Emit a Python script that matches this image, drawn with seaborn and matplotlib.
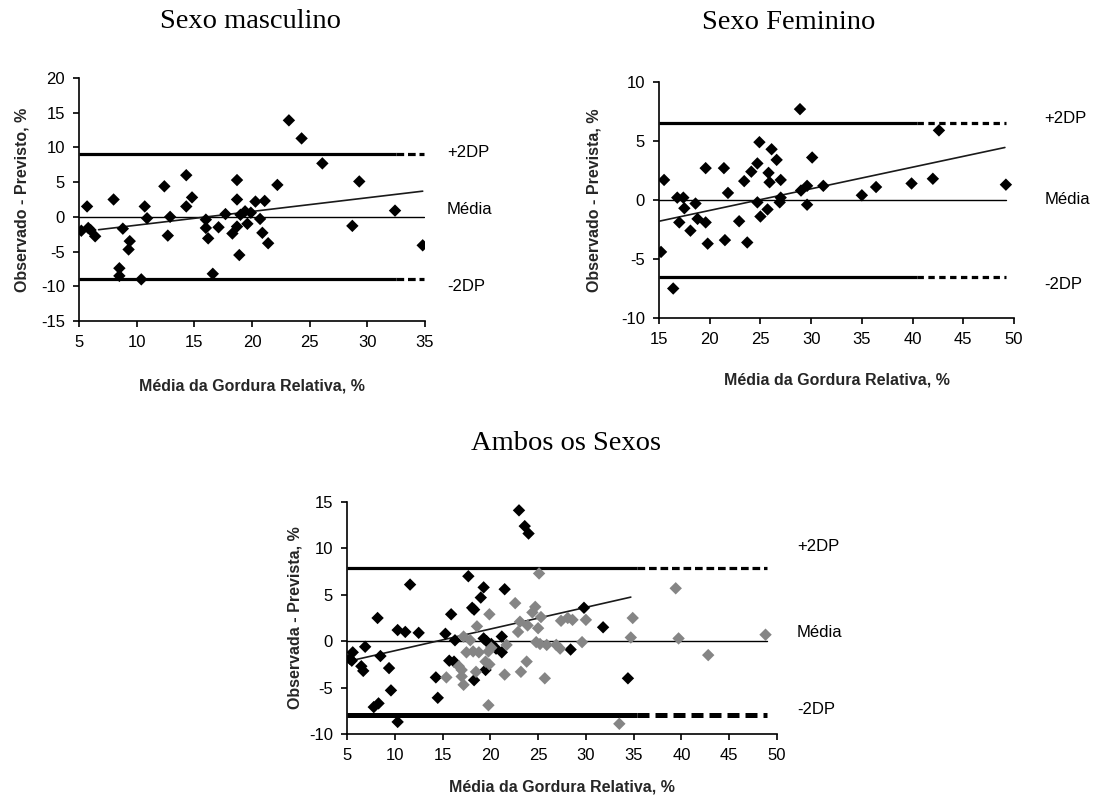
import matplotlib
matplotlib.use("Agg")
import matplotlib.pyplot as plt
import seaborn as sns
import pandas as pd

# ---------------- data ----------------
titles = ["Sexo masculino", "Sexo Feminino", "Ambos os Sexos"]
xlabel_text = "Média da Gordura Relativa, %"
ylabels = ["Observado - Previsto, %", "Observado - Prevista, %", "Observada - Prevista, %"]
band_labels = ["+2DP", "Média", "-2DP"]

male_x = [5.2, 5.7, 5.8, 6.0, 6.4, 8.0, 8.5, 8.5, 8.8, 9.4, 9.3, 10.4, 10.7, 10.9, 12.4,
          12.7, 12.9, 14.3, 14.3, 14.8, 16.0, 16.0, 16.2, 16.6, 17.1, 17.7, 18.3, 18.7,
          18.7, 18.7, 18.9, 19.0, 19.4, 19.6, 19.9, 20.3, 20.7, 20.9, 21.1, 21.4, 22.2,
          23.2, 24.3, 26.1, 28.7, 29.3, 32.4, 34.8]
male_y = [-2.0, 1.5, -1.6, -1.9, -2.8, 2.5, -7.4, -8.5, -1.7, -3.5, -4.7, -9.0, 1.5, -0.2, 4.4,
          -2.7, 0.0, 6.0, 1.5, 2.8, -0.4, -1.6, -3.1, -8.2, -1.5, 0.4, -2.4, 5.3,
          2.5, -1.4, -5.5, 0.3, 0.8, -1.0, 0.6, 2.2, -0.3, -2.3, 2.3, -3.8, 4.6,
          13.9, 11.3, 7.7, -1.3, 5.1, 0.9, -4.1]

fem_x = [15.2, 15.5, 16.4, 16.8, 17.0, 17.4, 17.5, 18.1, 18.6, 18.8, 19.6, 19.6, 19.8, 21.4,
         21.5, 21.8, 22.9, 23.4, 23.7, 24.1, 24.7, 24.7, 24.9, 25.0, 25.7, 25.8, 25.9, 26.1,
         26.6, 26.9, 27.0, 27.0, 28.9, 29.0, 29.6, 29.6, 30.1, 31.2, 35.0, 36.4, 39.9, 42.0,
         42.6, 49.2]
fem_y = [-4.4, 1.7, -7.5, 0.2, -1.9, 0.2, -0.7, -2.6, -0.3, -1.6, 2.7, -1.9, -3.7, 2.7,
         -3.4, 0.6, -1.8, 1.6, -3.6, 2.4, 3.1, -0.2, 4.9, -1.4, -0.8, 2.3, 1.5, 4.3,
         3.4, -0.2, 0.2, 1.7, 7.7, 0.8, 1.2, -0.4, 3.6, 1.2, 0.4, 1.1, 1.4, 1.8,
         5.9, 1.3]

both_m_x = [5.3, 5.5, 5.6, 6.5, 6.7, 6.9, 8.2, 8.5, 9.4, 9.6, 7.8, 8.3, 10.3, 10.3, 11.1,
            11.6, 12.5, 14.3, 14.5, 15.3, 15.9, 15.7, 16.2, 16.3, 17.7, 18.1, 18.3, 18.3,
            19.0, 19.3, 19.3, 19.6, 19.5, 20.1, 20.6, 21.2, 21.2, 21.5, 23.0, 23.6, 24.0,
            28.4, 29.8, 31.8, 34.4]
both_m_y = [-1.9, -2.1, -1.2, -2.7, -3.2, -0.6, 2.5, -1.6, -2.9, -5.3, -7.1, -6.7, -8.7, 1.2, 1.0,
            6.1, 0.9, -3.9, -6.1, 0.8, 2.9, -2.1, -2.2, 0.1, 7.0, 3.6, 3.4, -4.2,
            4.7, 5.8, 0.3, 0.0, -3.1, -0.3, -0.8, -1.2, 0.5, 5.6, 14.1, 12.4, 11.6,
            -0.9, 3.6, 1.5, -4.0]
both_f_x = [15.4, 16.7, 17.0, 17.0, 17.2, 17.2, 17.5, 17.9, 18.2, 18.6, 18.8, 18.5, 19.5, 19.9,
            19.9, 19.8, 20.1, 19.8, 21.7, 21.5, 22.6, 22.9, 23.1, 23.2, 23.8, 23.9, 24.4, 24.7,
            24.8, 25.1, 25.0, 25.3, 25.2, 25.7, 25.9, 26.9, 27.3, 27.4, 28.1, 28.6, 29.6, 30.0,
            33.5, 34.7, 34.9, 39.4, 39.7, 42.8, 48.8]
both_f_y = [-3.9, -2.7, -3.1, -3.8, -4.7, 0.5, -1.2, 0.1, -1.1, 1.6, -1.2, -3.3, -2.2, -2.5,
            2.9, -1.1, -0.7, -6.9, -0.4, -3.6, 4.1, 1.0, 2.1, -3.3, -2.2, 1.7, 3.1, 3.7,
            -0.1, 7.3, 1.4, 2.6, -0.3, -4.0, -0.4, -0.4, -0.8, 2.2, 2.5, 2.3, -0.1, 2.3,
            -8.9, 0.4, 2.5, 5.7, 0.3, -1.5, 0.7]

# limits of agreement (+2DP, mean, -2DP)
male_limits = [9.0, 0.0, -9.0]
fem_limits = [6.5, 0.0, -6.5]
both_limits = [7.9, 0.0, -8.0]

# regression line end points
male_reg_x, male_reg_y = [6.7, 34.8], [-1.85, 3.7]
fem_reg_x, fem_reg_y = [15.0, 49.1], [-1.8, 4.45]
both_reg_x, both_reg_y = [5.2, 34.7], [-2.15, 4.75]

# ---------------- style ----------------
sns.set_style("white")
plt.rcParams['font.family'] = ['Liberation Sans', 'DejaVu Sans']
plt.rcParams['axes.unicode_minus'] = False

W, H = 1095, 796
fig = plt.figure(figsize=(W / 100, H / 100), dpi=100)


def add_axes(l, t, r, b):
    return fig.add_axes([l / W, 1 - b / H, (r - l) / W, (b - t) / H])


def setup(ax, xlim, ylim, xticks, yticks, ylabel, xl_y, yl_x):
    ax.set_xlim(*xlim)
    ax.set_ylim(*ylim)
    ax.set_xticks(xticks)
    ax.set_yticks(yticks)
    for s in ["top", "right"]:
        ax.spines[s].set_visible(False)
    for s in ["left", "bottom"]:
        ax.spines[s].set_color("black")
        ax.spines[s].set_linewidth(1.2)
    ax.tick_params(direction="out", length=4, width=1.2, pad=6, labelsize=12,
                   colors="black", left=True, bottom=True)
    ax.set_xlabel(xlabel_text, fontsize=11.5, fontweight="bold")
    ax.set_ylabel(ylabel, fontsize=11.5, fontweight="bold")
    ax.xaxis.label.set_verticalalignment("center")
    ax.yaxis.label.set_verticalalignment("center")
    ax.xaxis.set_label_coords(0.5, xl_y)
    ax.yaxis.set_label_coords(yl_x, 0.5)
    ax.grid(False)


def bands(ax, limits, xmin, solid_end, xend, lws, dash):
    up, mean, lo = limits
    for lev, lw in zip([up, lo], lws):
        ax.plot([xmin, solid_end], [lev, lev], color="black", lw=lw,
                solid_capstyle="butt", zorder=2, clip_on=False)
        ax.plot([solid_end, xend], [lev, lev], color="black", lw=lw, ls=dash,
                dash_capstyle="butt", zorder=2, clip_on=False)
    ax.plot([xmin, xend], [mean, mean], color="black", lw=1.0, zorder=2)


def band_text(ax, x, ys):
    for t, y in zip(band_labels, ys):
        ax.text(x, y, t, ha="left", va="center", fontsize=12, color="black", clip_on=False)


def points(ax, xs, ys, color):
    df = pd.DataFrame({"x": xs, "y": ys})
    sns.scatterplot(data=df, x="x", y="y", ax=ax, marker="D", s=40, color=color,
                    edgecolor="none", linewidth=0, zorder=4, legend=False)


def reg(ax, xs, ys):
    df = pd.DataFrame({"x": xs, "y": ys})
    sns.lineplot(data=df, x="x", y="y", ax=ax, color="#1a1a1a", lw=1.2, zorder=3)


# ---------------- panel 1 ----------------
ax1 = add_axes(79, 78, 425, 321)
bands(ax1, male_limits, 5, 32.5, 34.9, [2.3, 2.3], (0, (2.4, 1.2)))
reg(ax1, male_reg_x, male_reg_y)
points(ax1, male_x, male_y, "black")
setup(ax1, (5, 35), (-15, 20), range(5, 36, 5), range(-15, 21, 5), ylabels[0],
      -65 / 243, -0.165)
band_text(ax1, 36.9, [9.2, 1.1, -10.1])

# ---------------- panel 2 ----------------
ax2 = add_axes(659, 82, 1014, 318)
bands(ax2, fem_limits, 15, 40.4, 49.2, [2.3, 2.3], (0, (2.0, 1.4)))
reg(ax2, fem_reg_x, fem_reg_y)
points(ax2, fem_x, fem_y, "black")
setup(ax2, (15, 50), (-10, 10), range(15, 51, 5), range(-10, 11, 5), ylabels[1],
      -62 / 236, -0.183)
band_text(ax2, 53.0, [6.9, 0.0, -7.2])

# ---------------- panel 3 ----------------
ax3 = add_axes(347, 502, 777, 734)
bands(ax3, both_limits, 5, 35.4, 49.0, [2.3, 3.6], (0, (2.4, 1.2)))
reg(ax3, both_reg_x, both_reg_y)
points(ax3, both_m_x, both_m_y, "black")
points(ax3, both_f_x, both_f_y, "#858585")
setup(ax3, (5, 50), (-10, 15), range(5, 51, 5), range(-10, 16, 5), ylabels[2],
      -53 / 232, -0.121)
band_text(ax3, 52.1, [10.2, 0.9, -7.4])

# ---------------- titles ----------------
for t, (cx, cy) in zip(titles, [(250, 22), (789, 22.5), (566, 443)]):
    fig.text(cx / W, 1 - cy / H, t, ha="center", va="center", fontsize=20.5,
             family=["Liberation Serif", "DejaVu Serif"], color="black")

fig.savefig("out.png", dpi=100, facecolor="white")
